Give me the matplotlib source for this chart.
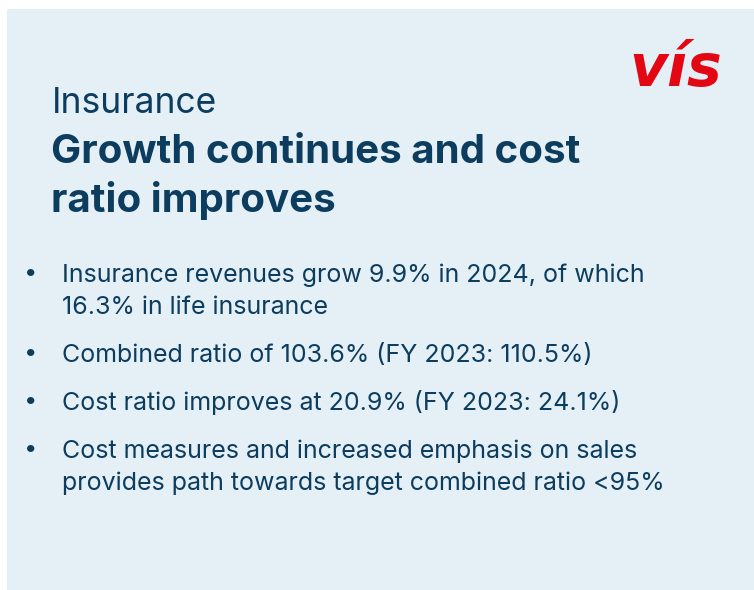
import matplotlib.pyplot as plt
from matplotlib.patches import Rectangle

W, H = 754, 590
BG = "#e4f0f6"
NAVY = "#0c3c5e"
RED = "#e30613"

subtitle = "Insurance"
title_lines = ["Growth continues and cost", "ratio improves"]
bullets = [
    ["Insurance revenues grow 9.9% in 2024, of which", "16.3% in life insurance"],
    ["Combined ratio of 103.6% (FY 2023: 110.5%)"],
    ["Cost ratio improves at 20.9% (FY 2023: 24.1%)"],
    ["Cost measures and increased emphasis on sales",
     "provides path towards target combined ratio <95%"],
]

plt.rcParams["font.family"] = ["Inter", "DejaVu Sans"]

fig = plt.figure(figsize=(W / 100, H / 100), dpi=100)
fig.patch.set_facecolor("white")


def px(x, y):
    return x / W, 1 - y / H


fig.patches.append(Rectangle((7 / W, 0), (W - 7) / W, (H - 9) / H,
                             transform=fig.transFigure, facecolor=BG,
                             edgecolor="none", zorder=0))

# logo
fig.text(*px(676, 86), "vís", color=RED, fontsize=42, fontweight="bold",
         style="italic", ha="center", va="baseline", family="DejaVu Sans")

fig.text(*px(52, 113), subtitle, color=NAVY, fontsize=25.5, va="baseline")
y = 163
for line in title_lines:
    fig.text(*px(51, y), line, color=NAVY, fontsize=29, fontweight="bold",
             va="baseline")
    y += 49

y = 282
for item in bullets:
    fig.text(*px(31, y - 9), "•", color=NAVY, fontsize=17, ha="center",
             va="center")
    for line in item:
        fig.text(*px(62, y), line, color=NAVY, fontsize=18, va="baseline")
        y += 32
    y += 16

fig.savefig("out.png", dpi=100, facecolor="white")
